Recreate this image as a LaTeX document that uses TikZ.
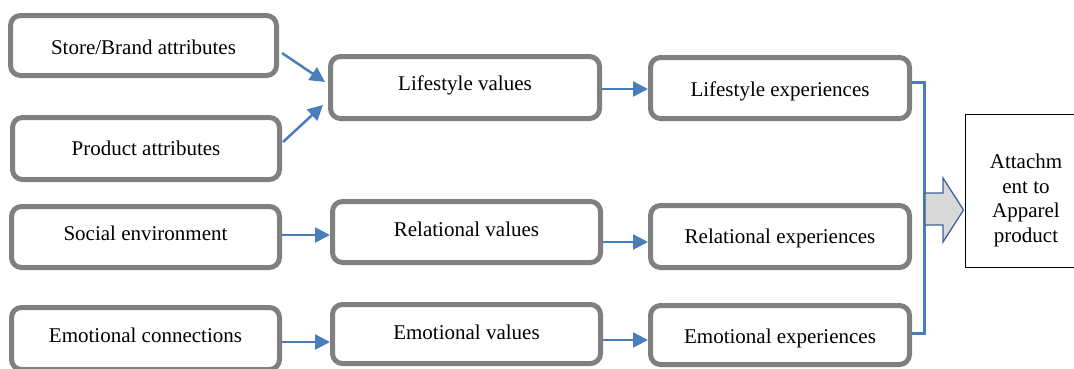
\documentclass[tikz,border=0pt]{standalone}
\usepackage{fontspec}
\setmainfont{Liberation Serif}
\usetikzlibrary{arrows.meta}
\definecolor{boxgray}{HTML}{808080}
\definecolor{arrblue}{HTML}{4A7EBB}
\definecolor{bigedge}{HTML}{3F6494}
\definecolor{bigfill}{HTML}{D9D9D9}
\tikzset{
  rbox/.style={draw=boxgray, line width=5pt, rounded corners=10pt, fill=white,
    inner sep=0pt},
  txt/.style={inner sep=0pt, align=center, font=\rmfamily\fontsize{21}{24.5}\selectfont},
  flow/.style={draw=arrblue, line width=2.5pt, -{Triangle[length=15pt,width=15pt]}},
  bracket/.style={draw=arrblue, line width=3pt},
  target/.style={draw=black, line width=1pt, fill=white, inner sep=0pt},
  bigarrow/.style={draw=bigedge, line width=1.3pt, fill=bigfill}
}
\begin{document}
\begin{tikzpicture}[x=1pt,y=-1pt]
\useasboundingbox (0,0) rectangle (1074,368);
\clip (0,0) rectangle (1074,368);

% left column
\node[rbox, minimum width=266pt, minimum height=60pt] (sb) at (143.5,45.5) {};
\node[rbox, minimum width=267pt, minimum height=62pt] (pa) at (146,148.5) {};
\node[rbox, minimum width=268pt, minimum height=61pt] (se) at (145.5,237) {};
\node[rbox, minimum width=268pt, minimum height=62pt] (ec) at (145.5,338.5) {};
\node[txt] (sbt) at ([shift={(0,2)}]sb) {Store/Brand attributes};
\node[txt] (pat) at (pa) {Product attributes};
\node[txt] (set) at ([shift={(0,-4)}]se) {Social environment};
\node[txt] (ect) at ([shift={(0,-3)}]ec) {Emotional connections};

% middle column
\node[rbox, minimum width=269pt, minimum height=62pt] (lv) at (465,87.5) {};
\node[rbox, minimum width=268pt, minimum height=61pt] (rv) at (466.5,232) {};
\node[rbox, minimum width=268pt, minimum height=59pt] (ev) at (466.5,334) {};
\node[txt] (lvt) at ([shift={(0,-2)}]lv) {Lifestyle values};
\node[txt] (rvt) at ([shift={(0,-3)}]rv) {Relational values};
\node[txt] (evt) at ([shift={(0,-2)}]ev) {Emotional values};

% right column
\node[rbox, minimum width=259pt, minimum height=61pt] (le) at (780,88) {};
\node[rbox, minimum width=259pt, minimum height=62pt] (re) at (780,236.5) {};
\node[rbox, minimum width=259pt, minimum height=59pt] (ee) at (780,335) {};
\node[txt] (let) at ([shift={(0,3)}]le) {Lifestyle experiences};
\node[txt] (ret) at ([shift={(0,2)}]re) {Relational experiences};
\node[txt] (eet) at ([shift={(0,3)}]ee) {Emotional experiences};

% target
\node[target, minimum width=122pt, minimum height=153pt] (at) at (1026,190.5) {};
\node[txt] (att) at ([shift={(0,10)}]at) {Attachm\\ent to\\Apparel\\product};

% arrows
\draw[flow] ([shift={(3,7.5)}]sb.east) -- ([shift={(-3,-5.5)}]lv.west);
\draw[flow] ([shift={(1,-6.5)}]pa.east) -- ([shift={(-5,17.5)}]lv.west);
\draw[flow] ([shift={(0,-2)}]se.east) -- ([shift={(0,-2)}]se.east -| rv.west);
\draw[flow] ([shift={(0,3.5)}]ec.east) -- ([shift={(0,3.5)}]ec.east -| ev.west);
\draw[flow] ([shift={(0,1.5)}]lv.east) -- ([shift={(0,1.5)}]lv.east -| le.west);
\draw[flow] ([shift={(0,10)}]rv.east) -- ([shift={(0,10)}]rv.east -| re.west);
\draw[flow] ([shift={(0,6)}]ev.east) -- ([shift={(0,6)}]ev.east -| ee.west);

% bracket
\draw[bracket] ([shift={(0,-6)}]le.east) -- ++(12,0) |- ([shift={(0,-2)}]ee.east);

% block arrow
\draw[bigarrow] (925,193) -- (943,193) -- (943,178) -- (963.5,210) -- (943,242) -- (943,225) -- (925,225) -- cycle;
\end{tikzpicture}
\end{document}
